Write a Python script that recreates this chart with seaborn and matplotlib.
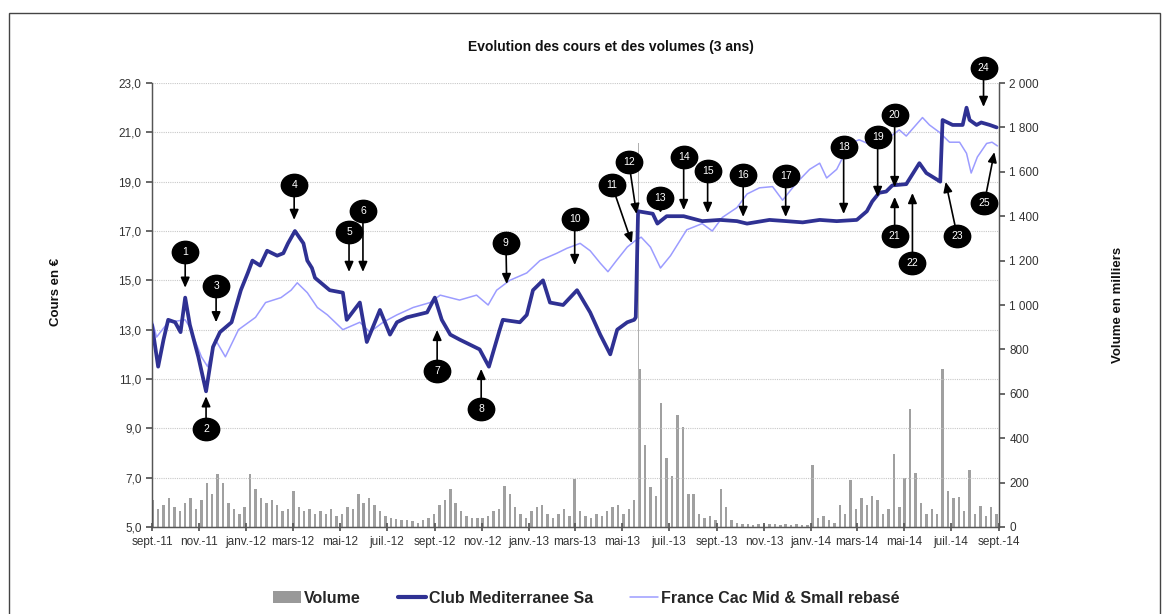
import pandas as pd
import numpy as np
import matplotlib
matplotlib.use("Agg")
import matplotlib.pyplot as plt
import matplotlib.dates as mdates
from matplotlib.path import Path
from matplotlib.patches import Patch, Rectangle
from matplotlib.lines import Line2D
import seaborn as sns

# ---- data ----
clubmed_dates = ['2011-09-01', '2011-09-09', '2011-09-16', '2011-09-22', '2011-10-01', '2011-10-08',
                 '2011-10-14', '2011-10-20', '2011-10-31', '2011-11-10', '2011-11-19', '2011-11-28',
                 '2011-12-13', '2011-12-25', '2012-01-03', '2012-01-09', '2012-01-19', '2012-01-28',
                 '2012-02-10', '2012-02-18', '2012-02-24', '2012-03-04', '2012-03-15', '2012-03-20',
                 '2012-03-26', '2012-03-30', '2012-04-18', '2012-05-05', '2012-05-10', '2012-05-27',
                 '2012-06-05', '2012-06-22', '2012-07-05', '2012-07-14', '2012-07-27', '2012-08-09',
                 '2012-08-22', '2012-09-01', '2012-09-10', '2012-09-21', '2012-10-03', '2012-10-16',
                 '2012-10-29', '2012-11-10', '2012-11-24', '2012-11-28', '2012-12-20', '2012-12-29',
                 '2013-01-06', '2013-01-19', '2013-01-28', '2013-02-14', '2013-03-04', '2013-03-21',
                 '2013-04-03', '2013-04-16', '2013-04-25', '2013-05-08', '2013-05-17', '2013-05-19',
                 '2013-05-22', '2013-06-10', '2013-06-16', '2013-06-28', '2013-07-20', '2013-08-13',
                 '2013-09-05', '2013-09-27', '2013-10-10', '2013-11-08', '2013-11-30', '2013-12-21',
                 '2014-01-12', '2014-02-03', '2014-03-01', '2014-03-14', '2014-03-21', '2014-03-30',
                 '2014-04-08', '2014-04-16', '2014-05-04', '2014-05-12', '2014-05-21', '2014-05-30',
                 '2014-06-12', '2014-06-17', '2014-06-20', '2014-07-03', '2014-07-16', '2014-07-21',
                 '2014-07-25', '2014-08-03', '2014-08-09', '2014-08-20', '2014-08-29']
clubmed_prices = [13.2, 11.5, 12.6, 13.4, 13.3, 12.9,
                  14.3, 13.2, 11.9, 10.5, 12.3, 12.9,
                  13.3, 14.6, 15.3, 15.8, 15.6, 16.2,
                  16.0, 16.1, 16.5, 17.0, 16.5, 15.8,
                  15.5, 15.1, 14.6, 14.5, 13.4, 14.1,
                  12.5, 13.8, 12.8, 13.3, 13.5, 13.6,
                  13.7, 14.3, 13.4, 12.8, 12.6, 12.4,
                  12.2, 11.5, 13.0, 13.4, 13.3, 13.6,
                  14.6, 15.0, 14.1, 14.0, 14.6, 13.7,
                  12.8, 12.0, 13.0, 13.3, 13.4, 13.5,
                  17.8, 17.7, 17.3, 17.6, 17.6, 17.4,
                  17.45, 17.4, 17.3, 17.45, 17.4, 17.35,
                  17.45, 17.4, 17.45, 17.8, 18.2, 18.55,
                  18.6, 18.85, 18.9, 19.3, 19.75, 19.35,
                  19.1, 19.0, 21.5, 21.3, 21.3, 22.0,
                  21.5, 21.3, 21.4, 21.3, 21.2]

index_dates = ['2011-09-01', '2011-09-07', '2011-09-22', '2011-10-14', '2011-10-20', '2011-11-04',
               '2011-11-12', '2011-11-22', '2011-12-05', '2011-12-22', '2012-01-13', '2012-01-26',
               '2012-02-15', '2012-02-28', '2012-03-07', '2012-03-20', '2012-04-02', '2012-04-15',
               '2012-05-05', '2012-05-27', '2012-06-09', '2012-06-26', '2012-07-14', '2012-08-04',
               '2012-08-26', '2012-09-08', '2012-10-03', '2012-10-25', '2012-11-09', '2012-11-20',
               '2012-12-07', '2012-12-29', '2013-01-15', '2013-02-06', '2013-02-19', '2013-03-08',
               '2013-03-21', '2013-04-03', '2013-04-13', '2013-04-24', '2013-05-08', '2013-05-18',
               '2013-05-26', '2013-06-07', '2013-06-20', '2013-07-03', '2013-07-24', '2013-08-13',
               '2013-08-26', '2013-09-08', '2013-09-27', '2013-10-10', '2013-10-26', '2013-11-12',
               '2013-11-25', '2013-12-13', '2013-12-30', '2014-01-12', '2014-01-21', '2014-02-03',
               '2014-02-20', '2014-03-04', '2014-03-26', '2014-04-25', '2014-05-04', '2014-05-25',
               '2014-06-03', '2014-06-16', '2014-06-29', '2014-07-12', '2014-07-21', '2014-07-27',
               '2014-08-04', '2014-08-16', '2014-08-23', '2014-08-30']
index_prices = [13.4, 12.7, 13.3, 13.4, 13.1, 11.9,
                11.5, 12.6, 11.9, 13.0, 13.5, 14.1,
                14.3, 14.6, 14.9, 14.5, 13.9, 13.6,
                13.0, 13.3, 12.9, 13.3, 13.6, 13.9,
                14.1, 14.4, 14.2, 14.4, 14.0, 14.6,
                15.0, 15.3, 15.8, 16.1, 16.3, 16.5,
                16.2, 15.7, 15.35, 15.8, 16.35, 16.6,
                16.75, 16.35, 15.5, 16.0, 17.05, 17.3,
                17.0, 17.55, 17.95, 18.5, 18.75, 18.8,
                18.25, 18.95, 19.5, 19.75, 19.15, 19.5,
                20.55, 20.7, 20.4, 21.1, 20.85, 21.6,
                21.3, 21.0, 20.6, 20.6, 20.15, 19.35,
                20.0, 20.55, 20.6, 20.45]

# weekly volumes (thousands), one value per Friday from 2011-09-02 to 2014-08-29
volume_values = [120, 80, 100, 130, 90,  70, 110, 130, 80,  120, 200, 150, 240,  200, 110, 80, 60, 90,
                 240, 170, 130, 110,  120, 100, 70, 80,  160, 90, 70, 80, 60,  70, 60, 80, 50,
                 60, 90, 80, 150,  110, 130, 100, 70, 50,  40, 35, 30, 30,  25, 20, 30, 40, 60,
                 100, 120, 170, 110,  70, 50, 40, 40,  40, 50, 70, 80, 185,  150, 90, 60, 40,
                 70, 90, 100, 60,  40, 60, 80, 50,  215, 70, 50, 40, 60,  50, 70, 90, 100,
                 60, 80, 120, 710, 370,  180, 140, 560, 310,  230, 505, 450, 150,  150, 60, 40, 50, 30,
                 170, 90, 30, 20,  15, 12, 10, 15,  10, 12, 15, 10, 12,  10, 12, 8, 10,
                 280, 40, 50, 30, 20,  100, 60, 210, 80,  130, 100, 140, 120,  60, 80, 330, 90,
                 220, 530, 245, 110, 60,  80, 60, 710, 160,  130, 135, 70, 255,  60, 95, 50, 90, 60]
peak_volume_dates = ['2013-05-22']
peak_volume_values = [1730]

# numbered markers: number, arrow tip (date, price), label (date, price)
note_numbers = list(range(1, 26))
note_tip_dates = ['2011-10-14', '2011-11-10', '2011-11-23', '2012-03-03', '2012-05-13', '2012-05-31',
                  '2012-09-04', '2012-10-31', '2012-12-03', '2013-03-01', '2013-05-14', '2013-05-20',
                  '2013-06-20', '2013-07-20', '2013-08-20', '2013-10-05', '2013-11-29', '2014-02-12',
                  '2014-03-28', '2014-04-19', '2014-04-19', '2014-05-12', '2014-06-24', '2014-08-12',
                  '2014-08-26']
note_tip_prices = [14.7, 10.3, 13.3, 17.45, 15.34, 15.34,
                   12.99, 11.41, 14.85, 15.62, 16.51, 17.69,
                   17.73, 17.85, 17.73, 17.57, 17.57, 17.69,
                   18.38, 18.78, 18.38, 18.54, 18.99, 22.03,
                   20.2]
note_label_dates = ['2011-10-14', '2011-11-10', '2011-11-23', '2012-03-03', '2012-05-13', '2012-05-31',
                    '2012-09-04', '2012-10-31', '2012-12-02', '2013-03-01', '2013-04-18', '2013-05-10',
                    '2013-06-20', '2013-07-20', '2013-08-20', '2013-10-05', '2013-11-29', '2014-02-12',
                    '2014-03-28', '2014-04-19', '2014-04-19', '2014-05-12', '2014-07-09', '2014-08-12',
                    '2014-08-13']
note_label_prices = [16.15, 8.97, 14.77, 18.87, 16.96, 17.81,
                     11.33, 9.79, 16.51, 17.49, 18.87, 19.8,
                     18.35, 20.0, 19.43, 19.27, 19.23, 20.41,
                     20.81, 21.7, 16.8, 15.7, 16.8, 23.61,
                     18.14]

FRENCH_MONTHS = {1: 'janv.', 3: 'mars', 5: 'mai', 7: 'juil.', 9: 'sept.', 11: 'nov.'}

sns.set_theme(style="white")
plt.rcParams['font.family'] = ['Liberation Sans', 'DejaVu Sans']

DARK = '#2f3193'
LIGHT = '#9c9cff'
GREY = '#a0a0a0'

fig = plt.figure(figsize=(11.68, 6.14), dpi=100)
ax = fig.add_axes([0.1301, 0.1417, 0.7252, 0.7231])
ax2 = ax.twinx()

# volume bars on the right axis
vol_dates = pd.date_range('2011-09-02', '2014-08-29', freq='W-FRI')
ax2.bar(vol_dates, volume_values, width=3.2, color=GREY, linewidth=0)
ax2.bar(pd.to_datetime(peak_volume_dates), peak_volume_values, width=1.4, color='#b0b0b0', linewidth=0)
ax2.set_ylim(0, 2000)
ax2.set_yticks(np.arange(0, 2001, 200))
ax2.yaxis.set_major_formatter(plt.FuncFormatter(lambda v, p: f"{int(v):,}".replace(',', ' ')))
ax2.set_ylabel("Volume en milliers", fontsize=9.5, fontweight='bold', color='#111111')
ax2.yaxis.set_label_coords(1.133, 0.5)

# price lines on the left axis, drawn above the bars
ax.set_zorder(ax2.get_zorder() + 1)
ax.patch.set_visible(False)
idx_df = pd.DataFrame({'date': pd.to_datetime(index_dates), 'price': index_prices})
cm_df = pd.DataFrame({'date': pd.to_datetime(clubmed_dates), 'price': clubmed_prices})
sns.lineplot(data=idx_df, x='date', y='price', color=LIGHT, linewidth=1.1, ax=ax)
sns.lineplot(data=cm_df, x='date', y='price', color=DARK, linewidth=2.7, ax=ax)

ax.set_ylim(5, 23)
ax.set_yticks(np.arange(5, 23.1, 2))
ax.yaxis.set_major_formatter(plt.FuncFormatter(lambda v, p: f"{v:.1f}".replace('.', ',')))
ax.set_xlim(mdates.date2num(pd.Timestamp('2011-09-01')), mdates.date2num(pd.Timestamp('2014-09-01')))
ax.xaxis.set_major_locator(mdates.MonthLocator(bymonth=[1, 3, 5, 7, 9, 11]))
ax.xaxis.set_major_formatter(plt.FuncFormatter(
    lambda v, p: f"{FRENCH_MONTHS[mdates.num2date(v).month]}-{mdates.num2date(v).strftime('%y')}"))
ax.set_xlabel("")
ax.set_ylabel("Cours en €", fontsize=9.5, fontweight='bold', color='#111111')
ax.yaxis.set_label_coords(-0.106, 0.53)

ax.yaxis.grid(True, color='#c8c8c8', linestyle=(0, (1, 1)), linewidth=0.8)
ax.xaxis.grid(False)
ax2.grid(False)

for a in (ax, ax2):
    for side in ('left', 'bottom', 'right'):
        a.spines[side].set_color('#555555')
        a.spines[side].set_linewidth(0.9)
    a.spines['top'].set_visible(False)
ax.tick_params(axis='y', direction='out', length=4, color='#555555', labelsize=8.5, labelcolor='#333333', left=True)
ax.tick_params(axis='x', direction='inout', length=6, color='#555555', labelsize=8.5, labelcolor='#333333', bottom=True)
ax2.tick_params(axis='y', direction='out', length=4, color='#555555', labelsize=8.5, labelcolor='#333333', right=True)

# numbered callouts
ellipse = Path(Path.unit_circle().vertices * np.array([1.18, 1.0]), Path.unit_circle().codes)
for n, td, tp, ld, lp in zip(note_numbers, note_tip_dates, note_tip_prices, note_label_dates, note_label_prices):
    tx = mdates.date2num(pd.Timestamp(td))
    lx = mdates.date2num(pd.Timestamp(ld))
    ax.annotate('', xy=(tx, tp), xytext=(lx, lp), annotation_clip=False, zorder=5,
                arrowprops=dict(arrowstyle='-|>,head_length=0.5,head_width=0.22', color='black',
                                lw=1.2, shrinkA=8, shrinkB=0))
    ax.plot([lx], [lp], marker=ellipse, markersize=19, color='black', clip_on=False, zorder=6)
    ax.text(lx, lp, str(n), color='white', fontsize=7.5, ha='center', va='center', zorder=7, clip_on=False)

fig.suptitle("Evolution des cours et des volumes (3 ans)", x=0.523, y=0.935, fontsize=10,
             fontweight='bold', color='#111111')

handles = [Patch(facecolor='#999999', edgecolor='none'),
           Line2D([], [], color=DARK, linewidth=3),
           Line2D([], [], color=LIGHT, linewidth=1.1)]
labels = ["Volume", "Club Mediterranee Sa", "France Cac Mid & Small rebasé"]
fig.legend(handles, labels, loc='center', bbox_to_anchor=(0.502, 0.026), ncol=3, frameon=False,
           columnspacing=2.3, handlelength=1.75, handletextpad=0.2,
           prop=dict(weight='bold', size=11.5))

# outer frame of the original image
fig.add_artist(Rectangle((9 / 1168, -0.05), (1160 - 9) / 1168, 1.05 - 13 / 614, transform=fig.transFigure,
                         fill=False, edgecolor='#444444', linewidth=1.0))

fig.savefig("out.png", dpi=100)
plt.close(fig)
